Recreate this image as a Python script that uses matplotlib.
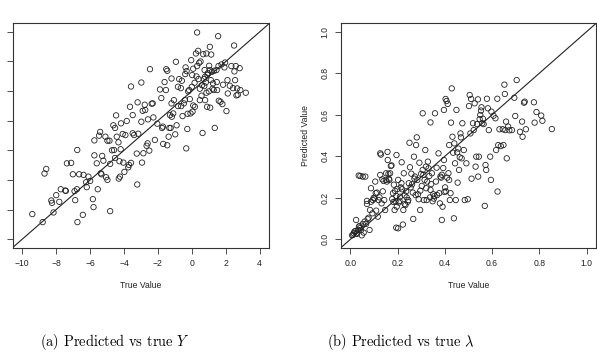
import matplotlib.pyplot as plt

# panel (a): predicted vs true Y
y_true = [-9.41, -8.80, -8.69, -8.59, -8.29, -8.25, -8.16, -8.00, -7.82, -7.73, -7.47, -7.43,
          -7.37, -7.12, -7.02, -6.88, -6.92, -6.78, -6.76, -6.75, -6.65, -6.39, -6.43, -6.24,
          -6.20, -6.10, -6.00, -5.84, -5.80, -5.75, -5.75, -5.61, -5.55, -5.47, -5.41, -5.37,
          -5.33, -5.29, -5.22, -5.10, -5.06, -4.98, -4.98, -4.86, -4.82, -4.82, -4.71, -4.59,
          -4.53, -4.63, -4.53, -4.47, -4.43, -4.33, -4.31, -4.24, -4.27, -4.20, -4.18, -4.08,
          -4.04, -3.98, -3.92, -3.84, -3.75, -3.71, -3.59, -3.65, -3.59, -3.49, -3.49, -3.41,
          -3.25, -3.22, -3.20, -3.16, -2.98, -2.98, -2.94, -2.90, -2.86, -2.78, -2.75, -2.67,
          -2.61, -2.59, -2.47, -2.51, -2.37, -2.31, -2.27, -2.18, -2.04, -1.88, -1.80, -1.76,
          -1.71, -1.69, -1.61, -1.53, -1.51, -1.45, -1.45, -1.37, -1.33, -1.29, -1.25, -1.20,
          -1.20, -1.18, -1.10, -1.06, -0.98, -0.94, -0.90, -0.82, -0.82, -0.75, -0.65, -0.63,
          -0.59, -0.55, -0.47, -0.41, -0.39, -0.37, -0.31, -0.33, -0.27, -0.25, -0.22, -0.16,
          -0.12, -0.08, -0.04, 0.00, 0.02, 0.04, 0.08, 0.08, 0.16, 0.18, 0.24, 0.31,
          0.27, 0.31, 0.37, 0.39, 0.43, 0.47, 0.47, 0.51, 0.57, 0.63, 0.67, 0.71,
          0.73, 0.75, 0.78, 0.82, 0.86, 0.86, 0.90, 0.94, 1.00, 1.02, 1.06, 1.06,
          1.08, 1.12, 1.14, 1.18, 1.22, 1.25, 1.29, 1.31, 1.35, 1.45, 1.47, 1.49,
          1.55, 1.57, 1.59, 1.69, 1.75, 1.80, 1.84, 1.92, 1.96, 2.04, 2.10, 2.12,
          2.24, 2.33, 2.43, 2.49, 2.51, 2.55, 2.59, 2.63, 2.71, 2.82, 2.86, 3.18,
          2.67, 0.78, 0.60, 0.92]
y_pred = [-8.31, -8.85, -5.57, -5.26, -7.39, -7.55, -8.20, -7.03, -7.48, -6.63, -6.72, -6.74,
          -4.88, -4.85, -5.62, -7.37, -6.76, -6.63, -3.98, -8.85, -5.62, -5.66, -8.36, -6.16,
          -6.49, -5.78, -6.07, -7.30, -7.84, -3.33, -4.34, -4.88, -6.63, -3.01, -2.76, -5.55,
          -5.62, -4.38, -4.70, -3.08, -5.82, -6.00, -3.35, -3.35, -8.11, -4.92, -4.00, -3.98,
          -4.52, -2.31, -2.49, -1.64, -3.08, -3.46, -5.91, -5.78, -4.74, -3.93, -2.18, -2.90,
          -4.83, -5.46, -2.97, -2.02, -5.15, -4.99, 0.31, -1.06, -4.85, -1.62, -2.85, -2.97,
          -4.22, -6.31, -0.76, -2.88, 0.58, -2.07, -4.83, -1.33, -4.20, -0.92, -1.28, -3.69,
          -3.53, -1.91, 1.48, -4.02, -0.85, -0.83, -1.78, -3.30, -2.20, 0.11, -0.47, -2.49,
          -2.40, -3.57, 0.61, 0.07, 1.48, 1.37, -3.66, -3.08, -2.49, -1.62, -2.49, -0.83,
          0.85, -1.73, -1.51, -0.61, -2.92, 1.98, -2.31, 0.29, -1.01, 0.81, 0.20, -1.01,
          0.70, -1.69, -0.83, -0.61, 1.15, 1.60, 1.35, -3.87, -2.56, -1.53, -0.02, 0.07,
          -0.54, -1.51, 2.09, 0.29, 1.08, -1.39, 1.51, -0.97, 0.56, -1.06, 2.54, 3.96,
          0.99, 1.69, 2.72, 0.81, 1.91, -0.61, 0.16, 2.00, -0.31, -2.83, 2.49, 0.81,
          0.34, 1.42, -0.61, 0.58, -0.11, 2.54, -1.06, 1.21, -0.02, 1.71, 2.99, 1.42,
          -1.12, 0.74, 2.47, 1.30, 0.16, 0.52, 0.07, 1.37, -2.49, 1.42, 0.61, 0.07,
          3.71, 1.69, -0.65, -0.72, 1.80, -0.88, 0.43, 1.60, 1.93, -1.35, 0.74, -0.16,
          0.36, 1.69, 0.20, 3.08, 1.33, 0.74, 1.69, -0.29, -0.25, 1.55, 0.07, -0.11,
          0.18, 0.97, 0.40, 1.10]

# panel (b): predicted vs true lambda
lam_true = [0.007, 0.011, 0.014, 0.017, 0.021, 0.024, 0.025, 0.028, 0.032, 0.036, 0.039, 0.042,
            0.045, 0.048, 0.052, 0.056, 0.060, 0.066, 0.070, 0.070, 0.073, 0.077, 0.081, 0.083,
            0.035, 0.042, 0.052, 0.063, 0.087, 0.087, 0.093, 0.095, 0.098, 0.102, 0.105, 0.107,
            0.109, 0.112, 0.116, 0.119, 0.123, 0.126, 0.126, 0.129, 0.132, 0.135, 0.137, 0.140,
            0.143, 0.147, 0.150, 0.151, 0.154, 0.157, 0.158, 0.161, 0.163, 0.165, 0.168, 0.171,
            0.174, 0.177, 0.180, 0.182, 0.184, 0.187, 0.189, 0.191, 0.194, 0.194, 0.195, 0.196,
            0.199, 0.202, 0.202, 0.205, 0.208, 0.210, 0.213, 0.216, 0.217, 0.219, 0.222, 0.224,
            0.226, 0.229, 0.230, 0.233, 0.236, 0.238, 0.243, 0.245, 0.247, 0.250, 0.252, 0.255,
            0.258, 0.261, 0.264, 0.266, 0.269, 0.271, 0.273, 0.276, 0.278, 0.281, 0.283, 0.286,
            0.289, 0.292, 0.295, 0.296, 0.299, 0.302, 0.306, 0.309, 0.306, 0.311, 0.314, 0.317,
            0.320, 0.321, 0.323, 0.325, 0.328, 0.331, 0.334, 0.337, 0.339, 0.339, 0.342, 0.345,
            0.348, 0.351, 0.353, 0.356, 0.358, 0.362, 0.365, 0.367, 0.373, 0.376, 0.379, 0.381,
            0.384, 0.387, 0.390, 0.387, 0.393, 0.396, 0.396, 0.398, 0.401, 0.403, 0.404, 0.407,
            0.410, 0.412, 0.415, 0.418, 0.418, 0.421, 0.424, 0.426, 0.429, 0.432, 0.435, 0.438,
            0.440, 0.443, 0.446, 0.449, 0.452, 0.454, 0.457, 0.460, 0.463, 0.466, 0.468, 0.471,
            0.474, 0.480, 0.484, 0.491, 0.497, 0.502, 0.505, 0.508, 0.511, 0.513, 0.519, 0.522,
            0.526, 0.530, 0.533, 0.536, 0.540, 0.541, 0.544, 0.547, 0.550, 0.553, 0.555, 0.558,
            0.561, 0.564, 0.569, 0.572, 0.575, 0.578, 0.582, 0.586, 0.592, 0.595, 0.597, 0.606,
            0.614, 0.617, 0.622, 0.623, 0.626, 0.631, 0.637, 0.645, 0.648, 0.652, 0.654, 0.656,
            0.659, 0.662, 0.668, 0.673, 0.684, 0.694, 0.698, 0.704, 0.718, 0.727, 0.729, 0.735,
            0.738, 0.743, 0.777, 0.780, 0.788, 0.808, 0.813, 0.853]
lam_pred = [0.019, 0.022, 0.029, 0.037, 0.040, 0.093, 0.029, 0.026, 0.045, 0.061, 0.064, 0.055,
            0.045, 0.019, 0.074, 0.032, 0.085, 0.074, 0.170, 0.185, 0.098, 0.104, 0.045, 0.141,
            0.307, 0.305, 0.302, 0.302, 0.181, 0.246, 0.125, 0.189, 0.199, 0.196, 0.278, 0.222,
            0.138, 0.225, 0.109, 0.189, 0.202, 0.310, 0.414, 0.408, 0.173, 0.289, 0.231, 0.281,
            0.189, 0.141, 0.286, 0.318, 0.278, 0.421, 0.382, 0.315, 0.291, 0.286, 0.318, 0.353,
            0.356, 0.194, 0.222, 0.180, 0.263, 0.141, 0.233, 0.183, 0.209, 0.056, 0.406, 0.157,
            0.242, 0.286, 0.053, 0.177, 0.185, 0.205, 0.250, 0.270, 0.371, 0.241, 0.071, 0.141,
            0.318, 0.212, 0.170, 0.165, 0.231, 0.202, 0.181, 0.189, 0.270, 0.465, 0.347, 0.250,
            0.316, 0.265, 0.225, 0.098, 0.398, 0.292, 0.302, 0.213, 0.454, 0.491, 0.286, 0.217,
            0.193, 0.369, 0.141, 0.234, 0.315, 0.257, 0.334, 0.311, 0.607, 0.189, 0.286, 0.430,
            0.350, 0.246, 0.189, 0.278, 0.374, 0.342, 0.305, 0.202, 0.238, 0.563, 0.266, 0.318,
            0.183, 0.217, 0.196, 0.209, 0.607, 0.278, 0.345, 0.213, 0.414, 0.222, 0.173, 0.302,
            0.297, 0.311, 0.157, 0.093, 0.343, 0.382, 0.623, 0.228, 0.250, 0.676, 0.231, 0.666,
            0.297, 0.652, 0.318, 0.286, 0.454, 0.189, 0.222, 0.562, 0.727, 0.494, 0.417, 0.101,
            0.462, 0.366, 0.189, 0.623, 0.419, 0.273, 0.437, 0.334, 0.395, 0.510, 0.491, 0.390,
            0.559, 0.430, 0.189, 0.366, 0.193, 0.642, 0.695, 0.510, 0.676, 0.292, 0.559, 0.526,
            0.655, 0.350, 0.398, 0.555, 0.674, 0.302, 0.398, 0.579, 0.599, 0.620, 0.636, 0.559,
            0.581, 0.555, 0.161, 0.358, 0.334, 0.677, 0.631, 0.526, 0.398, 0.286, 0.615, 0.595,
            0.583, 0.430, 0.677, 0.230, 0.454, 0.530, 0.449, 0.530, 0.454, 0.745, 0.700, 0.526,
            0.567, 0.390, 0.543, 0.525, 0.526, 0.682, 0.594, 0.767, 0.518, 0.567, 0.494, 0.658,
            0.663, 0.530, 0.660, 0.562, 0.613, 0.596, 0.571, 0.531]

y_ticks = [-10, -8, -6, -4, -2, 0, 2, 4]
lam_ticks = [0.0, 0.2, 0.4, 0.6, 0.8, 1.0]
lam_labels = ['0.0', '0.2', '0.4', '0.6', '0.8', '1.0']

plt.rcParams['font.family'] = ['Liberation Sans', 'DejaVu Sans']
plt.rcParams['mathtext.fontset'] = 'cm'

fig = plt.figure(figsize=(5.97, 3.54), dpi=100)
ax1 = fig.add_axes([13 / 597, 106 / 354, 256 / 597, 225 / 354])
ax2 = fig.add_axes([341 / 597, 106 / 354, 255 / 597, 225 / 354])

edge = '#333333'
for ax in (ax1, ax2):
    ax.axline((0, 0), slope=1, color='#222222', lw=0.8)
    for s in ax.spines.values():
        s.set_color(edge)
        s.set_linewidth(0.8)
    ax.tick_params(direction='out', length=4, width=0.6, color=edge,
                   labelsize=6.2, labelcolor='#222222', pad=4)
    ax.set_xlabel('True Value', fontsize=6.2, color='#222222', labelpad=9)

ax1.scatter(y_true, y_pred, s=15, facecolors='none', edgecolors='#222222', linewidths=0.6)
ax1.set_xlim(-10.55, 4.55)
ax1.set_ylim(-10.6, 4.6)
ax1.set_xticks(y_ticks)
ax1.set_xticklabels([str(t).replace('-', '\u2212') for t in y_ticks])
ax1.set_yticks(y_ticks)
ax1.tick_params(axis='y', labelleft=False)

ax2.scatter(lam_true, lam_pred, s=15, facecolors='none', edgecolors='#222222', linewidths=0.6)
ax2.set_xlim(-0.04, 1.04)
ax2.set_ylim(-0.042, 1.042)
ax2.set_xticks(lam_ticks)
ax2.set_xticklabels(lam_labels)
ax2.set_yticks(lam_ticks)
ax2.set_yticklabels(lam_labels, rotation=90, va='center')
ax2.set_ylabel('Predicted Value', fontsize=6.2, color='#222222', labelpad=8)

fig.text(115 / 597, 0.034, r'(a) Predicted vs true $Y$', ha='center', va='center',
         fontsize=10.4, family='cmr10')
fig.text(401 / 597, 0.034, r'(b) Predicted vs true $\lambda$', ha='center', va='center',
         fontsize=10.4, family='cmr10')

fig.savefig('out.png', dpi=100)
